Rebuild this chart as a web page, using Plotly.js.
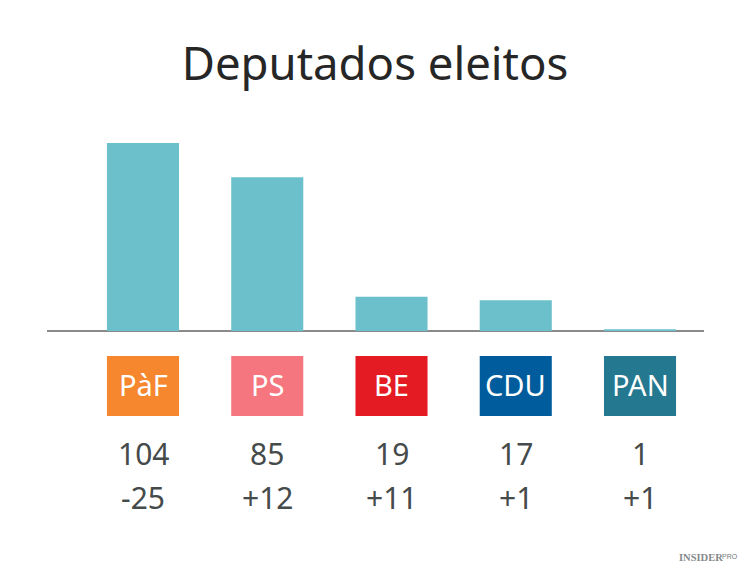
<!DOCTYPE html>
<html><head><meta charset="utf-8"><script src="https://cdn.plot.ly/plotly-3.0.1.min.js"></script>
<style>html,body{margin:0;padding:0;background:#fff}</style></head><body><div id="c" style="width:750px;height:573px"></div>
<script>
const parties=["PàF","PS","BE","CDU","PAN"];
const seats=[104,85,19,17,1];
const changes=["-25","+12","+11","+1","+1"];
const badgeColors=["#f6872f","#f5767e","#e41b23","#005c9c","#24788f"];
const barColor="#6bc0cc";
const font="'Noto Sans', 'Open Sans', sans-serif";
const textColor="#454a4a";
const H=573,pb=242,pt=122,pl=47,pr=46,ph=H-pb-pt,pw=750-pl-pr;
const py=v=>1-(v-pt)/ph;
const px=v=>(v-pl)/pw;
const layout={width:750,height:573,margin:{l:pl,r:pr,t:pt,b:pb},paper_bgcolor:'#fff',plot_bgcolor:'#fff',showlegend:false,
 title:{text:"Deputados eleitos",font:{family:font,size:45.5,color:'#262626'},x:0.5,xanchor:'center',y:0.861,yanchor:'bottom'},
 bargap:0.42,
 xaxis:{range:[-0.7726,4.515],tickvals:[],showgrid:false,zeroline:false,showline:false,fixedrange:true},
 yaxis:{range:[0,115.6],showticklabels:false,showgrid:false,zeroline:true,zerolinecolor:'#8a8a8a',zerolinewidth:1.5,fixedrange:true},
 annotations:[],shapes:[]};
parties.forEach((p,i)=>{
 layout.shapes.push({type:'rect',xref:'x',yref:'paper',x0:i-0.29,x1:i+0.29,y0:py(416),y1:py(356),fillcolor:badgeColors[i],line:{width:0},layer:'below'});
 layout.annotations.push({x:i,xref:'x',y:py(384),yref:'paper',text:p,showarrow:false,yanchor:'middle',font:{family:font,size:29,color:'#fff'}});
 layout.annotations.push({x:i,xref:'x',y:py(453.5),yref:'paper',text:String(seats[i]),showarrow:false,yanchor:'middle',font:{family:font,size:30,color:textColor}});
 layout.annotations.push({x:i,xref:'x',y:py(497.5),yref:'paper',text:changes[i],showarrow:false,yanchor:'middle',font:{family:font,size:30,color:textColor}});
});
layout.annotations.push({x:px(724),xref:'paper',xanchor:'right',y:py(557),yref:'paper',yanchor:'middle',text:"<b>INSIDER</b>",showarrow:false,borderpad:0,font:{family:"Liberation Serif, serif",size:10.5,color:'#85898c'}});
layout.annotations.push({x:px(739),xref:'paper',xanchor:'right',y:py(556),yref:'paper',yanchor:'middle',text:"PRO",showarrow:false,borderpad:0,font:{family:"Liberation Sans, sans-serif",size:7,color:'#777b7e'}});
Plotly.newPlot('c',[{type:'bar',x:[0,1,2,3,4],y:seats,marker:{color:barColor,line:{width:0}},hoverinfo:'skip'}],layout,{displayModeBar:false,staticPlot:true});
</script></body></html>
